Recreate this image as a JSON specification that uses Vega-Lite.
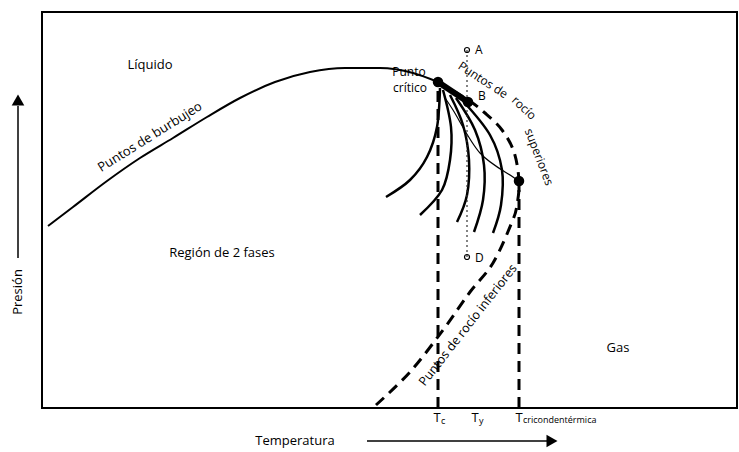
{
  "$schema": "https://vega.github.io/schema/vega-lite/v6.json",
  "width": 695,
  "height": 396,
  "autosize": {"type": "none"},
  "padding": {"left": 42, "top": 12, "right": 2, "bottom": 44},
  "background": "white",
  "config": {
    "view": {"stroke": "black", "strokeWidth": 2},
    "text": {"font": "Open Sans", "color": "black"}
  },
  "datasets": {
    "bubble": [
      {"x": 6, "y": 182}, {"x": 31, "y": 201}, {"x": 65, "y": 227}, {"x": 98, "y": 250},
      {"x": 131, "y": 270}, {"x": 165, "y": 291}, {"x": 198, "y": 310}, {"x": 233, "y": 326},
      {"x": 268, "y": 336}, {"x": 303, "y": 340}, {"x": 338, "y": 340}, {"x": 371, "y": 335},
      {"x": 396, "y": 326}
    ],
    "dew": [
      {"i": 1, "x": 396, "y": 326}, {"i": 2, "x": 426, "y": 308}, {"i": 3, "x": 443, "y": 295},
      {"i": 4, "x": 460, "y": 278}, {"i": 5, "x": 472, "y": 256}, {"i": 6, "x": 477, "y": 227},
      {"i": 7, "x": 475, "y": 203}, {"i": 8, "x": 470, "y": 186}, {"i": 9, "x": 451, "y": 145},
      {"i": 10, "x": 428, "y": 116}, {"i": 11, "x": 401, "y": 78}, {"i": 12, "x": 368, "y": 36},
      {"i": 13, "x": 334, "y": 3}
    ],
    "quality": [
      {"c": "c1", "i": 1, "x": 398, "y": 320}, {"c": "c1", "i": 2, "x": 395, "y": 281}, {"c": "c1", "i": 3, "x": 385, "y": 251}, {"c": "c1", "i": 4, "x": 368, "y": 228}, {"c": "c1", "i": 5, "x": 344, "y": 211},
      {"c": "c2", "i": 1, "x": 401, "y": 318}, {"c": "c2", "i": 2, "x": 409, "y": 281}, {"c": "c2", "i": 3, "x": 408, "y": 248}, {"c": "c2", "i": 4, "x": 400, "y": 218}, {"c": "c2", "i": 5, "x": 378, "y": 193},
      {"c": "c3", "i": 1, "x": 408, "y": 313}, {"c": "c3", "i": 2, "x": 421, "y": 283}, {"c": "c3", "i": 3, "x": 427, "y": 248}, {"c": "c3", "i": 4, "x": 425, "y": 213}, {"c": "c3", "i": 5, "x": 415, "y": 186},
      {"c": "c4", "i": 1, "x": 414, "y": 310}, {"c": "c4", "i": 2, "x": 433, "y": 278}, {"c": "c4", "i": 3, "x": 442, "y": 243}, {"c": "c4", "i": 4, "x": 441, "y": 208}, {"c": "c4", "i": 5, "x": 432, "y": 176},
      {"c": "c5", "i": 1, "x": 421, "y": 307}, {"c": "c5", "i": 2, "x": 448, "y": 273}, {"c": "c5", "i": 3, "x": 460, "y": 238}, {"c": "c5", "i": 4, "x": 459, "y": 203}, {"c": "c5", "i": 5, "x": 451, "y": 175}
    ],
    "thin": [
      {"i": 1, "x": 403, "y": 310}, {"i": 2, "x": 411, "y": 298}, {"i": 3, "x": 438, "y": 255},
      {"i": 4, "x": 471, "y": 231}, {"i": 5, "x": 477, "y": 227}
    ],
    "blob": [{"i": 1, "x": 396, "y": 326}, {"i": 2, "x": 426, "y": 306}],
    "verticals": [{"x": 396, "y": 0, "y2": 326}, {"x": 477, "y": 0, "y2": 227}],
    "dotted": [{"x": 425, "y": 151, "y2": 358}],
    "dots": [{"x": 396, "y": 326}, {"x": 426, "y": 306}, {"x": 477, "y": 227}],
    "open": [{"x": 425, "y": 358}, {"x": 425, "y": 151}],
    "hlabels": [
      {"t": "Líquido", "x": 108, "y": 343},
      {"t": "Región de 2 fases", "x": 180, "y": 155},
      {"t": "Gas", "x": 576, "y": 60},
      {"t": "Temperatura", "x": 253, "y": -33}
    ],
    "crit": [{"t": "Punto", "x": 367, "y": 336}, {"t": "crítico", "x": 368, "y": 320}],
    "letters": [{"t": "A", "x": 433, "y": 358}, {"t": "B", "x": 436, "y": 312}, {"t": "D", "x": 433, "y": 150}],
    "burbujeo": [{"t": "Puntos de burbujeo", "x": 108, "y": 271}],
    "sup1": [{"t": "Puntos de", "x": 441, "y": 328}],
    "sup2": [{"t": "rocío", "x": 482, "y": 300}],
    "sup3": [{"t": "superiores", "x": 497, "y": 251}],
    "inferiores": [{"t": "Puntos de rocío inferiores", "x": 426, "y": 83}],
    "tees": [{"t": "T", "x": 395, "y": -10}, {"t": "T", "x": 433, "y": -10}, {"t": "T", "x": 477, "y": -10}],
    "subs": [{"t": "c", "x": 399, "y": -13}, {"t": "y", "x": 437, "y": -13}, {"t": "cricondentérmica", "x": 481, "y": -12}],
    "presion": [{"t": "Presión", "x": -24, "y": 116}],
    "xarrow": [{"x": 325, "x2": 506, "y": -33}],
    "xhead": [{"x": 510, "y": -33}],
    "yarrow": [{"x": -24, "y": 150, "y2": 302}],
    "yhead": [{"x": -24, "y": 308}]
  },
  "encoding": {
    "x": {"field": "x", "type": "quantitative", "scale": {"domain": [0, 695], "nice": false, "zero": false}, "axis": null},
    "y": {"field": "y", "type": "quantitative", "scale": {"domain": [0, 396], "nice": false, "zero": false}, "axis": null}
  },
  "layer": [
    {"data": {"name": "bubble"}, "mark": {"type": "line", "color": "black", "strokeWidth": 2, "interpolate": "monotone"}, "encoding": {}},
    {"data": {"name": "dew"}, "mark": {"type": "line", "color": "black", "strokeWidth": 3, "strokeDash": [11, 7], "interpolate": "cardinal"}, "encoding": {"order": {"field": "i"}}},
    {"data": {"name": "quality"}, "mark": {"type": "line", "color": "black", "strokeWidth": 2.5, "interpolate": "cardinal"}, "encoding": {"detail": {"field": "c"}, "order": {"field": "i"}}},
    {"data": {"name": "thin"}, "mark": {"type": "line", "color": "black", "strokeWidth": 1.2, "interpolate": "cardinal"}, "encoding": {"order": {"field": "i"}}},
    {"data": {"name": "blob"}, "mark": {"type": "line", "color": "black", "strokeWidth": 6}, "encoding": {"order": {"field": "i"}}},
    {"data": {"name": "verticals"}, "mark": {"type": "rule", "color": "black", "strokeWidth": 3, "strokeDash": [11, 7]}, "encoding": {"y2": {"field": "y2"}}},
    {"data": {"name": "dotted"}, "mark": {"type": "rule", "color": "#333", "strokeWidth": 1.2, "strokeDash": [2, 3]}, "encoding": {"y2": {"field": "y2"}}},
    {"data": {"name": "dots"}, "mark": {"type": "point", "filled": true, "color": "black", "size": 110, "opacity": 1}, "encoding": {}},
    {"data": {"name": "open"}, "mark": {"type": "point", "filled": false, "color": "black", "size": 25, "strokeWidth": 1.2, "opacity": 1}, "encoding": {}},
    {"data": {"name": "hlabels"}, "mark": {"type": "text", "fontSize": 13, "align": "center", "baseline": "middle"}, "encoding": {"text": {"field": "t"}}},
    {"data": {"name": "crit"}, "mark": {"type": "text", "fontSize": 12, "align": "center", "baseline": "middle"}, "encoding": {"text": {"field": "t"}}},
    {"data": {"name": "letters"}, "mark": {"type": "text", "fontSize": 12, "align": "left", "baseline": "middle"}, "encoding": {"text": {"field": "t"}}},
    {"data": {"name": "burbujeo"}, "mark": {"type": "text", "fontSize": 13, "angle": -32, "align": "center", "baseline": "middle"}, "encoding": {"text": {"field": "t"}}},
    {"data": {"name": "sup1"}, "mark": {"type": "text", "fontSize": 12, "angle": 33, "align": "center", "baseline": "middle"}, "encoding": {"text": {"field": "t"}}},
    {"data": {"name": "sup2"}, "mark": {"type": "text", "fontSize": 12, "angle": 43, "align": "center", "baseline": "middle"}, "encoding": {"text": {"field": "t"}}},
    {"data": {"name": "sup3"}, "mark": {"type": "text", "fontSize": 12, "angle": 69, "align": "center", "baseline": "middle"}, "encoding": {"text": {"field": "t"}}},
    {"data": {"name": "inferiores"}, "mark": {"type": "text", "fontSize": 12.5, "angle": -52, "align": "center", "baseline": "middle"}, "encoding": {"text": {"field": "t"}}},
    {"data": {"name": "tees"}, "mark": {"type": "text", "fontSize": 13, "align": "center", "baseline": "middle"}, "encoding": {"text": {"field": "t"}}},
    {"data": {"name": "subs"}, "mark": {"type": "text", "fontSize": 9, "align": "left", "baseline": "middle"}, "encoding": {"text": {"field": "t"}}},
    {"data": {"name": "presion"}, "mark": {"type": "text", "fontSize": 13, "angle": -90, "align": "center", "baseline": "middle"}, "encoding": {"text": {"field": "t"}}},
    {"data": {"name": "xarrow"}, "mark": {"type": "rule", "color": "black", "strokeWidth": 1.5}, "encoding": {"x2": {"field": "x2"}}},
    {"data": {"name": "xhead"}, "mark": {"type": "point", "shape": "triangle-right", "filled": true, "color": "black", "size": 160, "opacity": 1}, "encoding": {}},
    {"data": {"name": "yarrow"}, "mark": {"type": "rule", "color": "black", "strokeWidth": 1.5}, "encoding": {"y2": {"field": "y2"}}},
    {"data": {"name": "yhead"}, "mark": {"type": "point", "shape": "triangle-up", "filled": true, "color": "black", "size": 160, "opacity": 1}, "encoding": {}}
  ]
}
